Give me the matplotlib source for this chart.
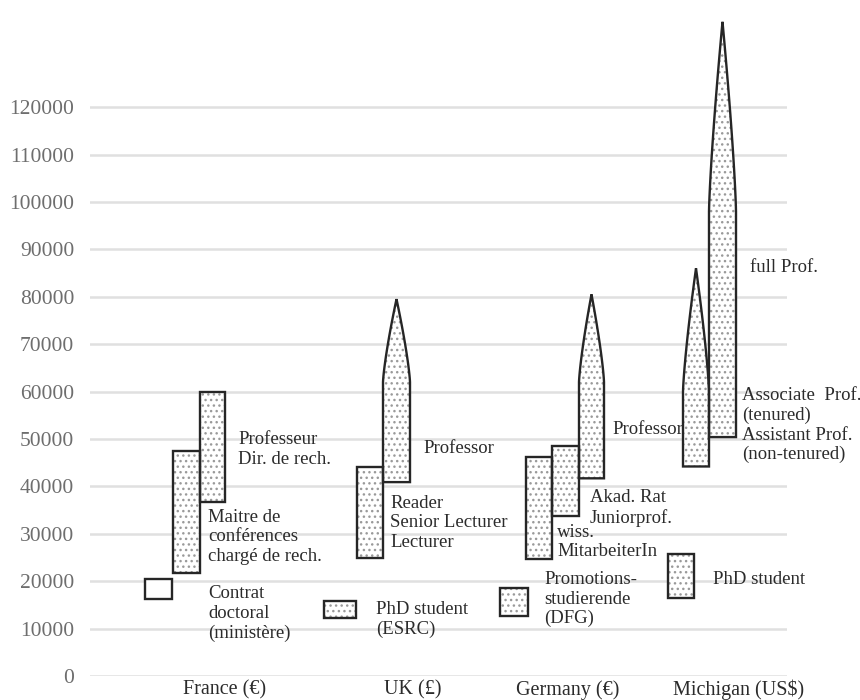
import numpy as np
import matplotlib
matplotlib.use("Agg")
import matplotlib.pyplot as plt
from matplotlib.patches import Polygon

plt.rcParams['font.family'] = ['Liberation Serif', 'DejaVu Serif']
plt.rcParams['hatch.linewidth'] = 1.0

# salary ranges per position (low / top of box / tip of spire)
countries = ["France (€)", "UK (£)", "Germany (€)", "Michigan (US$)"]
positions = ["Contrat doctoral", "Maitre de conf.", "Professeur",
             "PhD ESRC", "Reader/Lecturer", "Professor UK",
             "Promotionsstudierende", "wiss. MitarbeiterIn", "Akad. Rat", "Professor DE",
             "PhD Michigan", "Assistant Prof.", "full Prof."]
low = [16300, 21700, 36700, 12300, 24800, 40900, 12700, 24700, 33800, 41700, 16400, 44200, 50400]
high = [20500, 47500, 60000, 15900, 44000, 62000, 18500, 46300, 48600, 62000, 25700, 60000, 98000]
peak = [None, None, None, None, None, 79500, None, None, None, 80500, None, 86000, 138000]
hatched = [False] + [True] * 12

# layout (x in axis units, left edge and width of each box)
box_x = [55, 83, 110, 234, 267, 293, 410, 436, 462, 489, 578, 593, 619]
box_w = [27, 27, 25, 32, 26, 27, 28, 26, 27, 25, 26, 26, 27]

fig = plt.figure(figsize=(8.6, 7), dpi=100)
ax = fig.add_axes([90 / 860, 24 / 700, 697 / 860, 676 / 700])
ax.set_xlim(0, 697)
ax.set_ylim(0, 142600)

for s in ax.spines.values():
    s.set_visible(False)
ax.set_xticks([])
ax.set_yticks(np.arange(0, 130000, 10000))
ax.tick_params(axis='y', length=0, pad=11.5, labelsize=15.5, labelcolor='#6e6e6e')
ax.yaxis.grid(True, color='#e0e0e0', linewidth=1.8)
ax.set_axisbelow(True)


def outline(x0, w, lo, hi, pk):
    if pk is None:
        return [(x0, lo), (x0 + w, lo), (x0 + w, hi), (x0, hi)]
    t = np.linspace(0, 1, 40)
    yy = hi + t * (pk - hi)
    hw = w / 2 * (1 - t ** 1.3)
    xc = x0 + w / 2
    right = list(zip(xc + hw, yy))
    left = list(zip(xc - hw, yy))[::-1]
    return [(x0, lo), (x0 + w, lo)] + right + left


for i in range(len(low)):
    pts = outline(box_x[i], box_w[i], low[i], high[i], peak[i])
    if hatched[i]:
        ax.add_patch(Polygon(pts, closed=True, facecolor='white', edgecolor='#9a9a9a',
                             hatch='...', linewidth=0, zorder=3))
    else:
        ax.add_patch(Polygon(pts, closed=True, facecolor='white', linewidth=0, zorder=3))
    ax.add_patch(Polygon(pts, closed=True, fill=False, edgecolor='#262626',
                         linewidth=1.7, joinstyle='miter', zorder=4))

txt = dict(fontsize=13.5, color='#2b2b2b', va='center', ha='left', linespacing=1.2, zorder=5)
ax.text(148, 47800, "Professeur\nDir. de rech.", **txt)
ax.text(118, 29400, "Maitre de\nconférences\nchargé de rech.", **txt)
ax.text(118, 13200, "Contrat\ndoctoral\n(ministère)", **txt)
ax.text(286, 12000, "PhD student\n(ESRC)", **txt)
ax.text(300, 32300, "Reader\nSenior Lecturer\nLecturer", **txt)
ax.text(333, 47900, "Professor", **txt)
ax.text(454, 16200, "Promotions-\nstudierende\n(DFG)", **txt)
ax.text(467, 28300, "wiss.\nMitarbeiterIn", **txt)
ax.text(500, 35400, "Akad. Rat\nJuniorprof.", **txt)
ax.text(522, 51900, "Professor", **txt)
ax.text(623, 20300, "PhD student", **txt)
ax.text(660, 86100, "full Prof.", **txt)
ax.text(652, 52900, "Associate  Prof.\n(tenured)\nAssistant Prof.\n(non-tenured)", **txt)

cat_x = [135, 323, 478, 649]
for cx, name in zip(cat_x, countries):
    ax.text(cx, -3000, name, fontsize=14.5, color='#2b2b2b', ha='center', va='center',
            clip_on=False)

fig.savefig("out.png", dpi=100, facecolor='white')
